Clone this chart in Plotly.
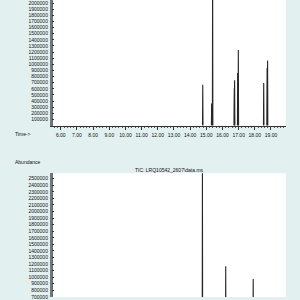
import plotly.graph_objects as go

# ---- data ----
top_rt = [14.78, 15.33, 15.39, 16.73, 16.75, 16.94, 16.98, 18.55, 18.76, 18.79]
top_abund = [665000, 360000, 2700000, 610000, 740000, 860000, 1235000, 693000, 940000, 1064000]

bot_rt = [14.76, 16.20, 17.90]
bot_abund = [2700000, 1165000, 974000]

x_ticks = [6, 7, 8, 9, 10, 11, 12, 13, 14, 15, 16, 17, 18, 19]
top_y_ticks = list(range(100000, 2000001, 100000))
bot_y_ticks = list(range(700000, 2500001, 100000))

title_text = "TIC: LRQ10542_2607\\data.ms"

BG = "#e2f0f0"
LINE = "#262626"
FONT = dict(family="Liberation Sans, Arial, sans-serif", size=5, color="#111111")


def peak_trace(rts, vals, baseline):
    xs, ys = [], []
    for t, v in zip(rts, vals):
        xs += [t - 0.015, t, t + 0.015, None]
        ys += [baseline, v, baseline, None]
    return xs, ys


W, H = 300, 300
xl, xr = 52.7 / W, 285.7 / W

tx, ty = peak_trace(top_rt, top_abund, 0)
bx, by = peak_trace(bot_rt, bot_abund, 0)

fig = go.Figure()
fig.add_trace(go.Scatter(x=tx, y=ty, mode="lines", line=dict(color=LINE, width=1.1),
                         xaxis="x", yaxis="y", hoverinfo="skip", showlegend=False))
fig.add_trace(go.Scatter(x=bx, y=by, mode="lines", line=dict(color=LINE, width=1.1),
                         xaxis="x2", yaxis="y2", hoverinfo="skip", showlegend=False))

axis_common = dict(showgrid=False, zeroline=False, tickfont=FONT)

fig.update_layout(
    width=W, height=H,
    margin=dict(l=0, r=0, t=0, b=0),
    paper_bgcolor=BG, plot_bgcolor="white",
    font=FONT,
    xaxis=dict(domain=[xl, xr], anchor="y", range=[5.5, 19.91],
               tickvals=x_ticks, tickformat=".2f",
               ticks="outside", ticklen=3, tickwidth=1, tickcolor="#333",
               minor=dict(ticks="outside", ticklen=1.5, dtick=0.2, tickcolor="#555"),
               showline=True, linecolor="#333", linewidth=1,
               ticklabelstandoff=1, **axis_common),
    yaxis=dict(domain=[1 - 127 / H, 1], anchor="x", range=[-3000, 2050000],
               tickvals=top_y_ticks, tickformat="d",
               ticks="inside", ticklen=2, tickwidth=1, tickcolor="#333",
               minor=dict(ticks="inside", ticklen=1, dtick=20000, tickcolor="#666"),
               showline=True, linecolor="#777", linewidth=2.5,
               ticklabelstandoff=1, ticklabeloverflow="allow", **axis_common),
    xaxis2=dict(domain=[xl, xr], anchor="y2", range=[5.5, 19.91],
                visible=False),
    yaxis2=dict(domain=[0, 1 - 175 / H], anchor="x2", range=[698000, 2583000],
                tickvals=bot_y_ticks, tickformat="d",
                ticks="inside", ticklen=2, tickwidth=1, tickcolor="#333",
                minor=dict(ticks="inside", ticklen=1, dtick=20000, tickcolor="#666"),
                showline=True, linecolor="#777", linewidth=2.5,
                ticklabelstandoff=1, ticklabeloverflow="allow", **axis_common),
    annotations=[
        dict(text="Time->", x=12.7 / W, y=1 - 135 / H, xref="paper", yref="paper",
             xanchor="left", yanchor="middle", showarrow=False, font=FONT),
        dict(text="Abundance", x=12.7 / W, y=1 - 163.3 / H, xref="paper", yref="paper",
             xanchor="left", yanchor="middle", showarrow=False, font=FONT),
        dict(text=title_text, x=(xl + xr) / 2, y=1 - 172 / H, xref="paper", yref="paper",
             xanchor="center", yanchor="middle", showarrow=False, font=FONT),
    ],
)

fig.write_html("out.html")
